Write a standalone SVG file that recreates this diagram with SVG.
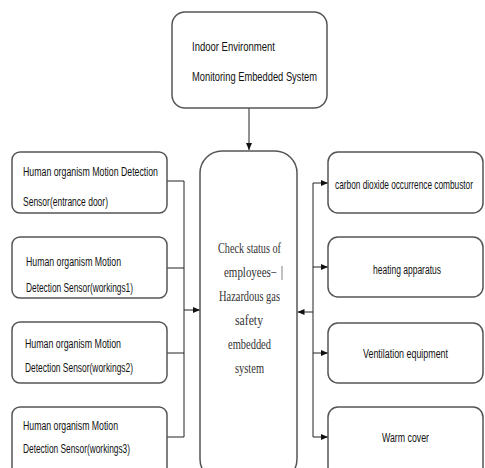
<svg xmlns="http://www.w3.org/2000/svg" width="485" height="468" viewBox="0 0 485 468">
<style>
.box{fill:#fff;stroke:#555;stroke-width:1.5}
.t{font-family:"Liberation Sans",Arial,sans-serif;font-size:12.5px;fill:#111}
.s{font-family:"Liberation Serif","Times New Roman",serif;font-size:14px;fill:#333;text-anchor:middle}
.c{fill:none;stroke:#222;stroke-width:1}
.m{text-anchor:middle}
</style>
<defs>
<marker id="ah" markerWidth="7" markerHeight="6" refX="7" refY="3" orient="auto" markerUnits="userSpaceOnUse">
<path d="M0,0 L7,3 L0,6 Z" fill="#111"/>
</marker>
</defs>
<rect width="485" height="468" fill="#fff"/>
<g id="connectors">
<path class="c" d="M249,108 V150" marker-end="url(#ah)"/>
<path class="c" d="M167,181 H184 V437 H167 M167,268 H184 M167,353 H184"/>
<path class="c" d="M184,310 H200" marker-end="url(#ah)"/>
<path class="c" d="M313,312 H297.5" marker-end="url(#ah)"/>
<path class="c" d="M313,183 V437"/>
<path class="c" d="M313,183 H328" marker-end="url(#ah)"/>
<path class="c" d="M313,267 H328" marker-end="url(#ah)"/>
<path class="c" d="M313,353 H328" marker-end="url(#ah)"/>
<path class="c" d="M313,437 H328" marker-end="url(#ah)"/>
</g>
<g id="top">
<rect class="box" x="172" y="12" width="155" height="96" rx="13"/>
<text class="t" x="192" y="51" textLength="83" lengthAdjust="spacingAndGlyphs">Indoor Environment</text>
<text class="t" x="192" y="81" textLength="125" lengthAdjust="spacingAndGlyphs">Monitoring Embedded System</text>
</g>
<g id="center">
<rect class="box" x="200" y="151" width="97" height="330" rx="22"/>
<text class="s" x="249.5" y="253" textLength="63" lengthAdjust="spacingAndGlyphs">Check status of</text>
<text class="s" x="250.5" y="277" textLength="53" lengthAdjust="spacingAndGlyphs">employees−</text>
<line x1="282" y1="266" x2="282" y2="280" stroke="#666" stroke-width="0.8"/>
<text class="s" x="249.5" y="301" textLength="61" lengthAdjust="spacingAndGlyphs">Hazardous gas</text>
<text class="s" x="249" y="325" textLength="28" lengthAdjust="spacingAndGlyphs">safety</text>
<text class="s" x="249.5" y="349" textLength="43" lengthAdjust="spacingAndGlyphs">embedded</text>
<text class="s" x="249.5" y="373" textLength="29" lengthAdjust="spacingAndGlyphs">system</text>
</g>
<g id="left1">
<rect class="box" x="12" y="152" width="155" height="61" rx="8"/>
<text class="t" x="23" y="176" textLength="135" lengthAdjust="spacingAndGlyphs">Human organism Motion Detection</text>
<text class="t" x="23" y="206" textLength="85" lengthAdjust="spacingAndGlyphs">Sensor(entrance door)</text>
</g>
<g id="left2">
<rect class="box" x="12" y="237" width="155" height="61" rx="8"/>
<text class="t" x="26" y="266" textLength="95" lengthAdjust="spacingAndGlyphs">Human organism Motion</text>
<text class="t" x="26" y="292" textLength="107" lengthAdjust="spacingAndGlyphs">Detection Sensor(workings1)</text>
</g>
<g id="left3">
<rect class="box" x="12" y="322" width="155" height="61" rx="8"/>
<text class="t" x="25" y="348" textLength="96" lengthAdjust="spacingAndGlyphs">Human organism Motion</text>
<text class="t" x="25" y="372" textLength="108" lengthAdjust="spacingAndGlyphs">Detection Sensor(workings2)</text>
</g>
<g id="left4">
<rect class="box" x="12" y="407" width="155" height="70" rx="8"/>
<text class="t" x="23" y="430" textLength="95" lengthAdjust="spacingAndGlyphs">Human organism Motion</text>
<text class="t" x="23" y="453" textLength="107" lengthAdjust="spacingAndGlyphs">Detection Sensor(workings3)</text>
</g>
<g id="right1">
<rect class="box" x="328" y="152" width="155" height="61" rx="10"/>
<text class="t m" transform="translate(404,189) scale(0.7,1)" x="0" y="0" textLength="197" lengthAdjust="spacingAndGlyphs">carbon dioxide occurrence combustor</text>
</g>
<g id="right2">
<rect class="box" x="328" y="237" width="155" height="60" rx="10"/>
<text class="t m" x="407" y="274" textLength="68" lengthAdjust="spacingAndGlyphs">heating apparatus</text>
</g>
<g id="right3">
<rect class="box" x="328" y="323" width="155" height="60" rx="10"/>
<text class="t m" x="405.5" y="358" textLength="85" lengthAdjust="spacingAndGlyphs">Ventilation equipment</text>
</g>
<g id="right4">
<rect class="box" x="328" y="407" width="155" height="70" rx="10"/>
<text class="t m" x="405.5" y="442" textLength="47" lengthAdjust="spacingAndGlyphs">Warm cover</text>
</g>
</svg>
